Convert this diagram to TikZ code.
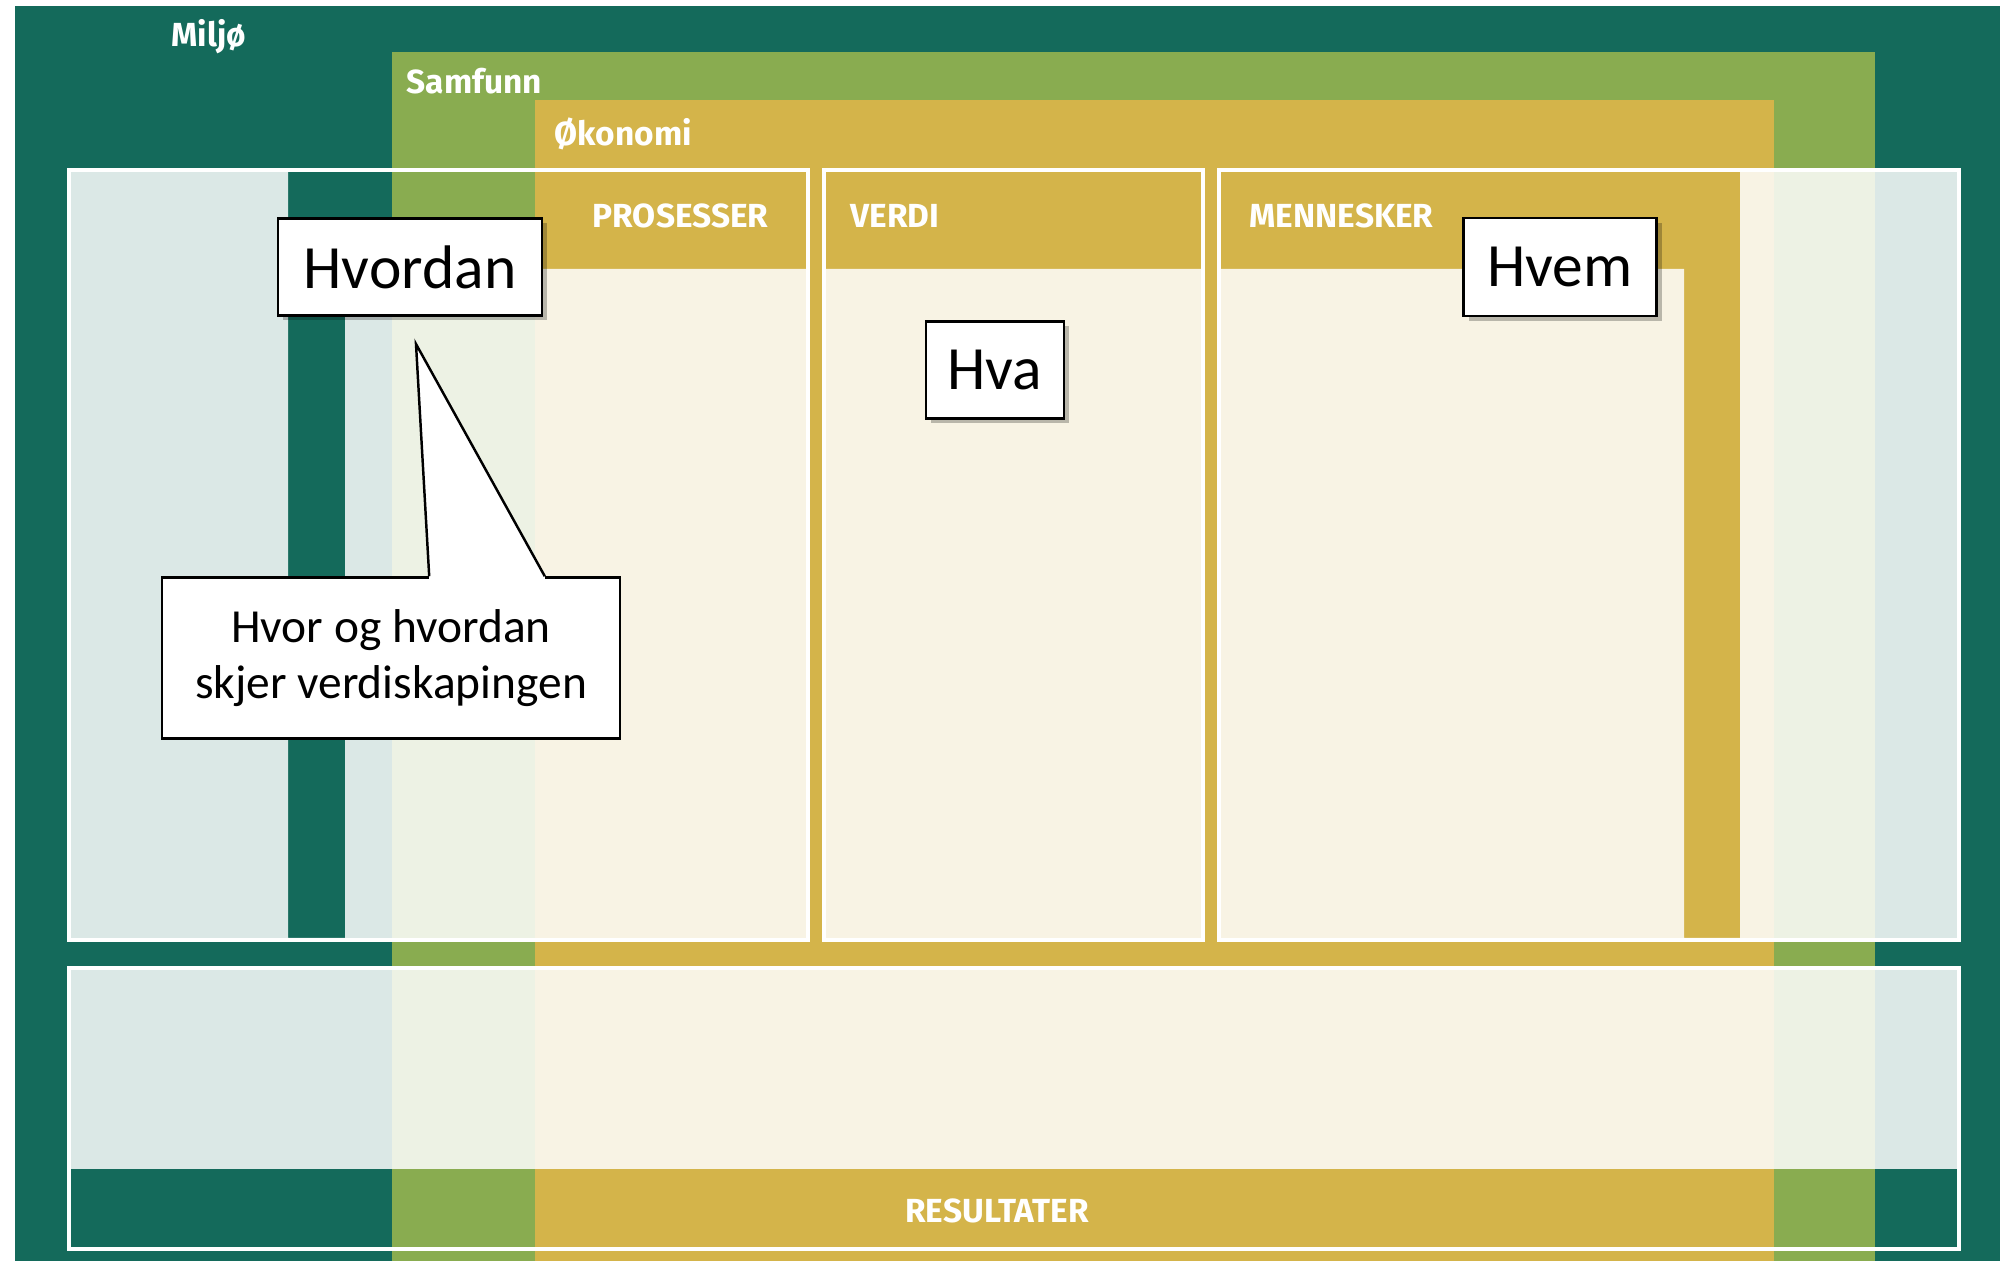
\documentclass[tikz,border=0pt]{standalone}
\usepackage{fontspec}
\usetikzlibrary{calc}
\usetikzlibrary{shadows}
\definecolor{miljo}{HTML}{146A5B}
\definecolor{samfunn}{HTML}{89AC50}
\definecolor{okonomi}{HTML}{D4B44A}
\newfontfamily\headfont{Fira Sans}
\newfontfamily\notefont{Carlito}

\begin{document}
\begin{tikzpicture}[x=0.1mm, y=-0.1mm,
  head/.style={text=white, inner sep=0pt, anchor=base west,
    font=\headfont\bfseries\fontsize{9.5}{12}\selectfont},
  veil/.style={fill=white, fill opacity=0.85},
  panel/.style={draw=white, line width=1.4pt},
  tag/.style={draw, line width=0.7pt, fill=white, inner sep=0pt,
    font=\notefont\fontsize{17.5}{21}\selectfont,
    drop shadow={shadow xshift=0.5mm, shadow yshift=-0.5mm, fill=black, opacity=0.25}}]

  \useasboundingbox (0,0) rectangle (2000,1261);

  % nested frames
  \fill[miljo] (15,6) rectangle (2000,1261);
  \fill[samfunn] (392,52) rectangle (1875,1261);
  \fill[okonomi] (535,100) rectangle (1774,1261);

  \node[head] (miljo label) at (171,47) {Miljø};
  \node[head] (samfunn label) at (406,94) {Samfunn};
  \node[head] (okonomi label) at (554,146) {Økonomi};

  % translucent panels, inner frame left opaque
  \begin{scope}
    \clip (69,170) rectangle (808,940) (824,170) rectangle (1203,940)
      (1219,170) rectangle (1959,940);
    \fill[veil, even odd rule] (0,0) rectangle (2000,1261)
      (288,160) -- (1740,160) -- (1740,938) -- (1684,938) -- (1684,269)
      -- (345,269) -- (345,938) -- (288,938) -- cycle;
  \end{scope}
  \fill[veil] (69,968) rectangle (1959,1169);

  \draw[panel] (69,170) rectangle (808,940);
  \draw[panel] (824,170) rectangle (1203,940);
  \draw[panel] (1219,170) rectangle (1959,940);
  \draw[panel] (69,968) rectangle (1959,1249);

  \node[head] (prosesser) at (592,228) {PROSESSER};
  \node[head] (verdi) at (850,228) {VERDI};
  \node[head] (mennesker) at (1249,228) {MENNESKER};
  \node[head, anchor=base] (resultater) at (997,1223) {RESULTATER};

  % notes
  \node[tag, minimum width=2.64cm, minimum height=0.97cm] (hvordan) at (410,267) {Hvordan};
  \node[tag, minimum width=1.38cm, minimum height=0.97cm] (hva) at (995,370) {Hva};
  \node[tag, minimum width=1.93cm, minimum height=0.98cm] (hvem) at (1560,267) {Hvem};

  \node[draw, line width=0.7pt, fill=white, minimum width=4.58cm, minimum height=1.61cm,
    align=center, font=\notefont\fontsize{13.5}{16}\selectfont] (sted) at (391,658)
    {Hvor og hvordan\\skjer verdiskapingen};
  \coordinate (tip) at (416,344);
  \coordinate (base l) at ($(sted.north west)!0.583!(sted.north east)$);
  \coordinate (base r) at ($(sted.north west)!0.834!(sted.north east)$);
  \fill[white] (base l) -- (tip) -- (base r) -- ([yshift=-1pt]base r) -- ([yshift=-1pt]base l) -- cycle;
  \draw[line width=0.7pt] (base l) -- (tip) -- (base r);

\end{tikzpicture}
\end{document}
